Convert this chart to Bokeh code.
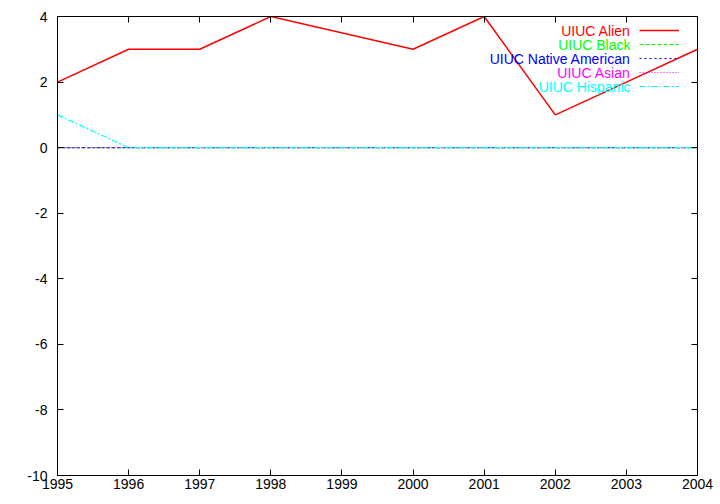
from bokeh.plotting import figure
from bokeh.models import (Range1d, LinearAxis, FixedTicker, Legend,
                          LegendItem, Label)
from bokeh.embed import file_html
from bokeh.resources import INLINE

# ---- data ----
years = [1995, 1996, 1997, 1998, 2000, 2001, 2002, 2003, 2004]
alien = [2, 3, 3, 4, 3, 4, 1, 2, 3]
black = [0, 0, 0, 0, 0, 0, 0, 0, 0]
native = [0, 0, 0, 0, 0, 0, 0, 0, 0]
asian = [0, 0, 0, 0, 0, 0, 0, 0, 0]
hispanic = [1, 0, 0, 0, 0, 0, 0, 0, 0]
names = ["UIUC Alien", "UIUC Black", "UIUC Native American", "UIUC Asian", "UIUC Hispanic"]
x_ticks = [1995, 1996, 1997, 1998, 1999, 2000, 2001, 2002, 2003, 2004]
y_ticks = [-10, -8, -6, -4, -2, 0, 2, 4]
y_tick_labels = ["-10", "-8", "-6", "-4", "-2", "0", "2", "4"]

series = [alien, black, native, asian, hispanic]
colors = ["#ff0000", "#00ff00", "#0000ff", "#ff00ff", "#00ffff"]
dashes = ["solid", "4 2", "2 3", "1 2", "6 2 2 2"]
widths = [1.5, 1.2, 1.2, 1.2, 1.2]

FONT = "Liberation Sans"

p = figure(width=720, height=504, output_backend="svg", toolbar_location=None,
           x_range=Range1d(1995, 2004), y_range=Range1d(-10, 4),
           min_border_left=57, min_border_right=23, min_border_top=16,
           min_border_bottom=29, x_axis_type=None, y_axis_type=None)
p.xgrid.visible = False
p.ygrid.visible = False
p.outline_line_color = "black"
p.outline_line_width = 1
p.background_fill_color = "white"
p.border_fill_color = "white"


def make_axis(ticks, labels):
    ax = LinearAxis(ticker=FixedTicker(ticks=ticks))
    ax.axis_line_color = "black"
    ax.major_tick_line_color = "black"
    ax.major_tick_in = 6
    ax.major_tick_out = 0
    ax.minor_tick_line_color = None
    ax.major_label_text_font = FONT
    ax.major_label_text_font_size = "14px"
    ax.major_label_text_color = "black"
    if not labels:
        ax.major_label_overrides = {t: "" for t in ticks}
        ax.major_label_standoff = 0
    return ax


xb = make_axis(x_ticks, True)
xb.major_label_standoff = 3
p.add_layout(xb, "below")
yl = make_axis(y_ticks, True)
yl.major_label_standoff = 10
yl.major_label_overrides = dict(zip(y_ticks, y_tick_labels))
p.add_layout(yl, "left")
p.add_layout(make_axis(x_ticks, False), "above")
p.add_layout(make_axis(y_ticks, False), "right")

items = []
for name, ys, c, d, w in zip(names, series, colors, dashes, widths):
    r = p.line(years, ys, line_color=c, line_dash=d, line_width=w)
    items.append(LegendItem(label=" ", renderers=[r]))

legend = Legend(items=items, location=(582, 382), glyph_width=40, glyph_height=14,
                label_height=14, label_width=0, label_standoff=0, spacing=0,
                padding=0, margin=0, border_line_color=None,
                background_fill_alpha=0, label_text_font_size="14px")
p.add_layout(legend)

for i, (name, c) in enumerate(zip(names, colors)):
    p.add_layout(Label(x=573, y=445 - 14 * i, x_units="screen", y_units="screen",
                       text=name, text_color=c, text_align="right",
                       text_baseline="middle", text_font=FONT,
                       text_font_size="14px"))

open("out.html", "w").write(file_html(p, INLINE))
